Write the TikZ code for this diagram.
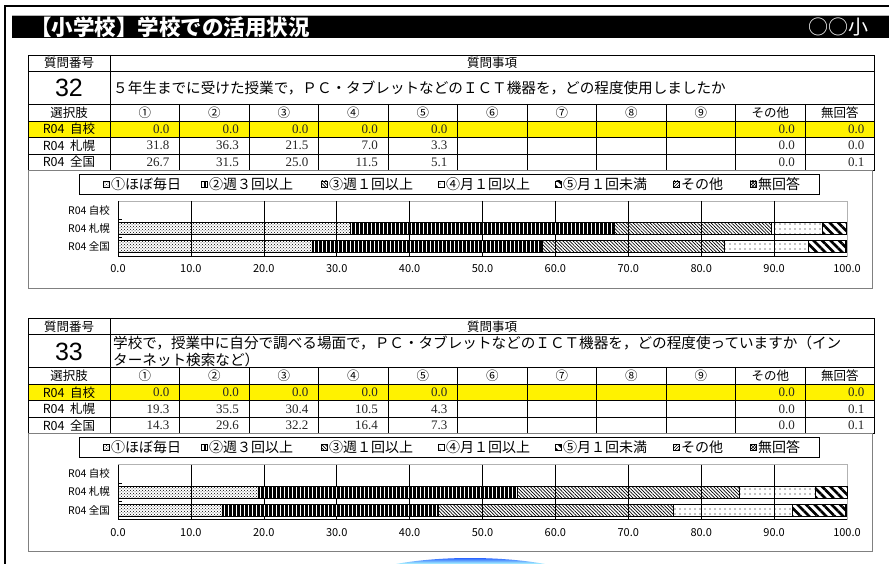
\documentclass[tikz,border=0pt]{standalone}
\usepackage{fontspec}
\setmainfont{Noto Sans CJK JP}
\newfontfamily\numfont{Liberation Serif}
\newfontfamily\bignum{Liberation Sans}
\usetikzlibrary{patterns,patterns.meta}

\tikzset{
  tbl/.style={line width=0.7pt},
  hdr/.style={inner sep=0pt, font=\fontsize{12.5}{14}\selectfont},
  val/.style={anchor=east, inner sep=0pt, text=black!85, font=\numfont\fontsize{13}{15}\selectfont},
  cat/.style={anchor=east, inner sep=0pt, font=\fontsize{10.5}{12}\selectfont},
  tick/.style={inner sep=0pt, font=\fontsize{11}{13}\selectfont},
  lgd/.style={anchor=west, inner sep=0pt, font=\fontsize{14}{16}\selectfont},
  bar1/.style={draw, line width=0.5pt, pattern=crosshatch dots},
  bar2/.style={draw, line width=0.5pt, fill=black, path picture={
    \foreach \k in {2,6,...,298}
      \draw[white, line width=1.3pt] ([xshift=\k pt]path picture bounding box.south west)
        -- ([xshift=\k pt]path picture bounding box.north west);}},
  bar3/.style={draw, line width=0.5pt, pattern={Lines[angle=-45,distance=2.4pt,line width=0.7pt]}},
  bar4/.style={draw, line width=0.5pt, pattern={Dots[distance=5pt,radius=0.6pt]}},
  bar5/.style={draw, line width=0.5pt, pattern={Lines[angle=-45,distance=6pt,line width=2.6pt]}},
  bar6/.style={draw, line width=0.5pt, pattern=north east lines},
  bar7/.style={draw, line width=0.5pt, pattern=crosshatch}
}

% one row of table values: y, list, name
\newcommand\vrow[3]{%
  \foreach \v [count=\i] in {#2}{%
    \pgfmathtruncatemacro\c{\i<6 ? \i : \i+4}
    \node[val] (#3-\i) at (100+69.5*\c,#1) {\v};}}

% one stacked bar: top, bottom, list
\newcommand\barrow[3]{%
  \gdef\cum{0}%
  \foreach \v [count=\i] in {#3}{%
    \pgfmathsetmacro\nxt{\cum+\v}
    \draw[bar\i] (118+7.29*\cum,#1) rectangle (118+7.29*\nxt,#2);
    \xdef\cum{\nxt}}}

% question block: number, text, sapporo, zenkoku
\newcommand\qblock[4]{%
  \fill[yellow] (28,121) rectangle (874.5,137);
  \draw[tbl] (28,55) rectangle (874.5,170);
  \foreach \y in {71,104,121,137,154} \draw[tbl] (28,\y) -- (874.5,\y);
  \draw[tbl] (110,55) -- (110,170);
  \foreach \c in {1,...,10} \draw[tbl] (110+69.5*\c,104) -- (110+69.5*\c,170);
  \node[hdr] (q#1bango) at (69,63) {質問番号};
  \node[hdr] (q#1jiko) at (492,63) {質問事項};
  \node[inner sep=0pt, font=\bignum\fontsize{25}{28}\selectfont] (q#1num) at (69,88) {#1};
  \node[anchor=west, align=left, inner sep=0pt, font=\fontsize{14.6}{17}\selectfont] (q#1text) at (113,88) {#2};
  \node[hdr] (q#1sentaku) at (69,112.5) {選択肢};
  \foreach \t [count=\c] in {①,②,③,④,⑤,⑥,⑦,⑧,⑨,その他,無回答}
    \node[hdr] (q#1h\c) at (110+69.5*\c-34.75,112.5) {\t};
  \node[hdr] (q#1r1) at (69,129) {R04\ \ 自校};
  \node[hdr] (q#1r2) at (69,145.5) {R04\ \ 札幌};
  \node[hdr] (q#1r3) at (69,162) {R04\ \ 全国};
  \vrow{129}{0.0,0.0,0.0,0.0,0.0,0.0,0.0}{q#1a}
  \vrow{145.5}{#3}{q#1b}
  \vrow{162}{#4}{q#1c}
  % chart
  \draw[gray, line width=0.8pt] (28,170) rectangle (872,288);
  \draw[line width=0.7pt] (79,174) rectangle (819,194);
  \foreach \t/\x [count=\i] in {①ほぼ毎日/103,②週３回以上/201,③週１回以上/321,④月１回以上/438,⑤月１回未満/555,その他/673,無回答/750}{
    \draw[bar\i] (\x,181) rectangle ++(6,6);
    \node[lgd] (q#1l\i) at (\x+8,184) {\t};}
  \draw[gray!60, line width=0.8pt] (118,201) rectangle (847,256);
  \foreach \k in {1,...,9} \draw[line width=0.6pt] (118+72.9*\k,201) -- (118+72.9*\k,256);
  \draw[line width=0.6pt] (118,201) -- (118,256) -- (847,256);
  \foreach \y in {219.5,237.5} \draw[line width=0.5pt] (118,\y) -- (122,\y);
  \foreach \t [count=\k from 0] in {0.0,10.0,20.0,30.0,40.0,50.0,60.0,70.0,80.0,90.0,100.0}
    \node[tick] (q#1t\k) at (118+72.9*\k,269) {\t};
  \node[cat] (q#1c1) at (110,210.5) {R04\ 自校};
  \node[cat] (q#1c2) at (110,228.5) {R04\ 札幌};
  \node[cat] (q#1c3) at (110,246.5) {R04\ 全国};
  \barrow{222.5}{234.5}{#3}
  \barrow{240.5}{252.5}{#4}
}

\begin{document}
\begin{tikzpicture}[x=1pt,y=-1pt]
\useasboundingbox (0,0) rectangle (889,564);
% frame and title bar
\draw[line width=1.3pt] (5,6) -- (889,6);
\draw[line width=1.5pt] (5,5.5) -- (5,564);
\draw[gray!60, line width=0.5pt] (12,15) -- (889,15);
\fill (12,16) rectangle (889,38);
\node[anchor=west, inner sep=0pt, text=white, font=\bfseries\fontsize{21.5}{24}\selectfont] (title) at (30,27) {【小学校】学校での活用状況};
\node[anchor=east, inner sep=0pt, text=white, font=\fontsize{20}{24}\selectfont] (school) at (869,27) {○○小};

\qblock{32}{５年生までに受けた授業で，ＰＣ・タブレットなどのＩＣＴ機器を，どの程度使用しましたか}{31.8,36.3,21.5,7.0,3.3,0.0,0.0}{26.7,31.5,25.0,11.5,5.1,0.0,0.1}

\begin{scope}[shift={(0,263.5)}]
\qblock{33}{学校で，授業中に自分で調べる場面で，ＰＣ・タブレットなどのＩＣＴ機器を，どの程度使っていますか（イン\\ターネット検索など）}{19.3,35.5,30.4,10.5,4.3,0.0,0.1}{14.3,29.6,32.2,16.4,7.3,0.0,0.1}
\end{scope}

% blue swoosh at the bottom
\shade[top color=blue!80!cyan, bottom color=cyan!30] (396,564) .. controls (440,556) and (500,556) .. (545,564) -- cycle;
\end{tikzpicture}
\end{document}
